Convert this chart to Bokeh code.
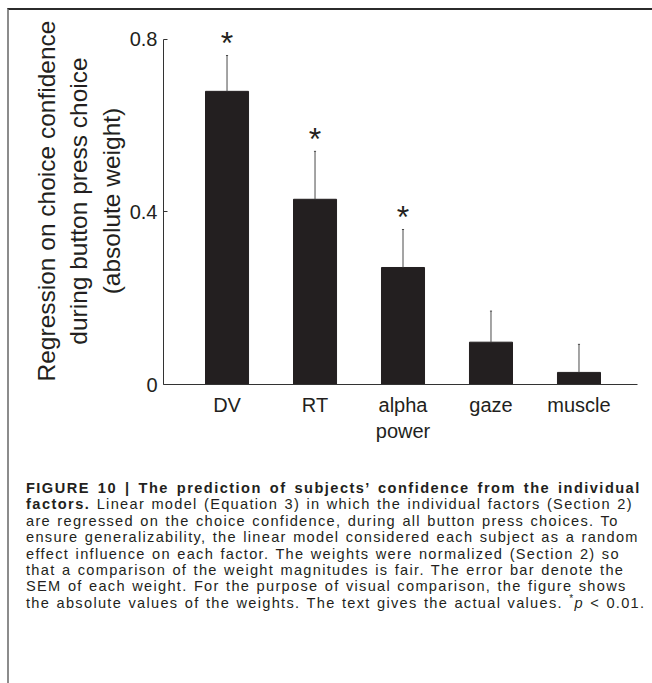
from bokeh.plotting import figure
from bokeh.models import Range1d, FixedTicker, ColumnDataSource, Div
from bokeh.layouts import column
from bokeh.embed import file_html
from bokeh.resources import INLINE
from bokeh.core.properties import value

# ---- data ----
categories = ["DV", "RT", "alpha\npower", "gaze", "muscle"]
weights = [0.679, 0.429, 0.271, 0.098, 0.028]
sems = [0.083, 0.111, 0.088, 0.072, 0.065]
stars = ["*", "*", "*", "", ""]
y_ticks = [0, 0.4, 0.8]
y_tick_labels = ["0", "0.4", "0.8"]
y_label_lines = ["Regression on choice confidence",
                 "during button press choice",
                 "(absolute weight)"]
caption_bold_1 = "FIGURE 10 | The prediction of subjects\u2019 confidence from the individual"
caption_bold_2 = "factors."
caption_lines = [
    " Linear model (Equation 3) in which the individual factors (Section 2)",
    "are regressed on the choice confidence, during all button press choices. To",
    "ensure generalizability, the linear model considered each subject as a random",
    "effect influence on each factor. The weights were normalized (Section 2) so",
    "that a comparison of the weight magnitudes is fair. The error bar denote the",
    "SEM of each weight. For the purpose of visual comparison, the figure shows",
    "the absolute values of the weights. The text gives the actual values. ",
]
caption_tail = ("*", "p", " < 0.01.")

INK = "#231f20"
FONT = "Liberation Sans"

xs = list(range(1, len(categories) + 1))
hi = [w + s for w, s in zip(weights, sems)]
cap = 0.012
src = ColumnDataSource(dict(
    x=xs, w=weights, hi=hi, star=stars,
    cl=[x - cap for x in xs], cr=[x + cap for x in xs],
))

p = figure(frame_width=474, frame_height=367,
           x_range=Range1d(0.278, 5.665), y_range=Range1d(0, 0.85),
           min_border_left=154, min_border_right=14,
           min_border_top=7, min_border_bottom=56,
           output_backend="svg", toolbar_location=None)
p.outline_line_color = None
p.xgrid.visible = False
p.ygrid.visible = False
p.background_fill_color = "white"
p.border_fill_color = "white"

p.vbar(x="x", top="w", width=0.489, source=src,
       fill_color=INK, line_color=INK)
p.segment(x0="x", y0="w", x1="x", y1="hi", source=src,
          line_color="#4a4a4a", line_width=1)
p.segment(x0="cl", y0="hi", x1="cr", y1="hi", source=src,
          line_color="#4a4a4a", line_width=1)
p.text(x="x", y="hi", text="star", source=src,
       text_font=value(FONT), text_font_size="32px",
       text_align="center", text_baseline="alphabetic",
       y_offset=-12, text_color=INK)

# y axis
ya = p.yaxis[0]
ya.ticker = FixedTicker(ticks=y_ticks)
ya.major_label_overrides = {t: l for t, l in zip(y_ticks, y_tick_labels)}
ya.bounds = (0, 0.8)
ya.axis_line_color = "#333333"
ya.major_tick_line_color = "#333333"
ya.major_tick_in = 4
ya.major_tick_out = 0
ya.minor_tick_line_color = None
ya.major_label_standoff = 6
ya.major_label_text_font = FONT
ya.major_label_text_font_size = "20px"
ya.major_label_text_color = INK
ya.axis_label = "\n".join(y_label_lines)
ya.axis_label_text_font = FONT
ya.axis_label_text_font_size = "24.5px"
ya.axis_label_text_font_style = "normal"
ya.axis_label_text_color = INK
ya.axis_label_standoff = 2

# x axis
xa = p.xaxis[0]
xa.ticker = FixedTicker(ticks=xs)
xa.major_label_overrides = {x: c for x, c in zip(xs, categories)}
xa.axis_line_color = "#333333"
xa.major_tick_line_color = None
xa.minor_tick_line_color = None
xa.major_tick_in = 0
xa.major_tick_out = 0
xa.major_label_standoff = 9
xa.major_label_text_font = FONT
xa.major_label_text_font_size = "20px"
xa.major_label_text_color = INK

html = (
    "<div style=\"font-family:'Liberation Sans',Arial,sans-serif;font-size:14.6px;"
    "line-height:16.4px;letter-spacing:1.3px;word-spacing:1px;color:#231f20;"
    "white-space:nowrap;padding-left:12px;padding-top:31px;margin:0;\">"
    "<b style='letter-spacing:1.45px;word-spacing:2.5px'>" + caption_bold_1 + "</b><br>"
    "<b style='letter-spacing:1.45px'>" + caption_bold_2 + "</b>"
    + "<br>".join(caption_lines)
    + "<sup style='font-size:10px;line-height:0'>" + caption_tail[0] + "</sup><i>"
    + caption_tail[1] + "</i>" + caption_tail[2].replace("<", "&lt;")
    + "</div>"
)
div = Div(text=html, width=643, height=236)

layout = column(p, div, spacing=0,
                styles={"margin": "8px 0 0 7px",
                        "border-top": "2px solid #2b2b2b",
                        "border-left": "2px solid #8c8c8c"})

open("out.html", "w").write(file_html(layout, INLINE))
